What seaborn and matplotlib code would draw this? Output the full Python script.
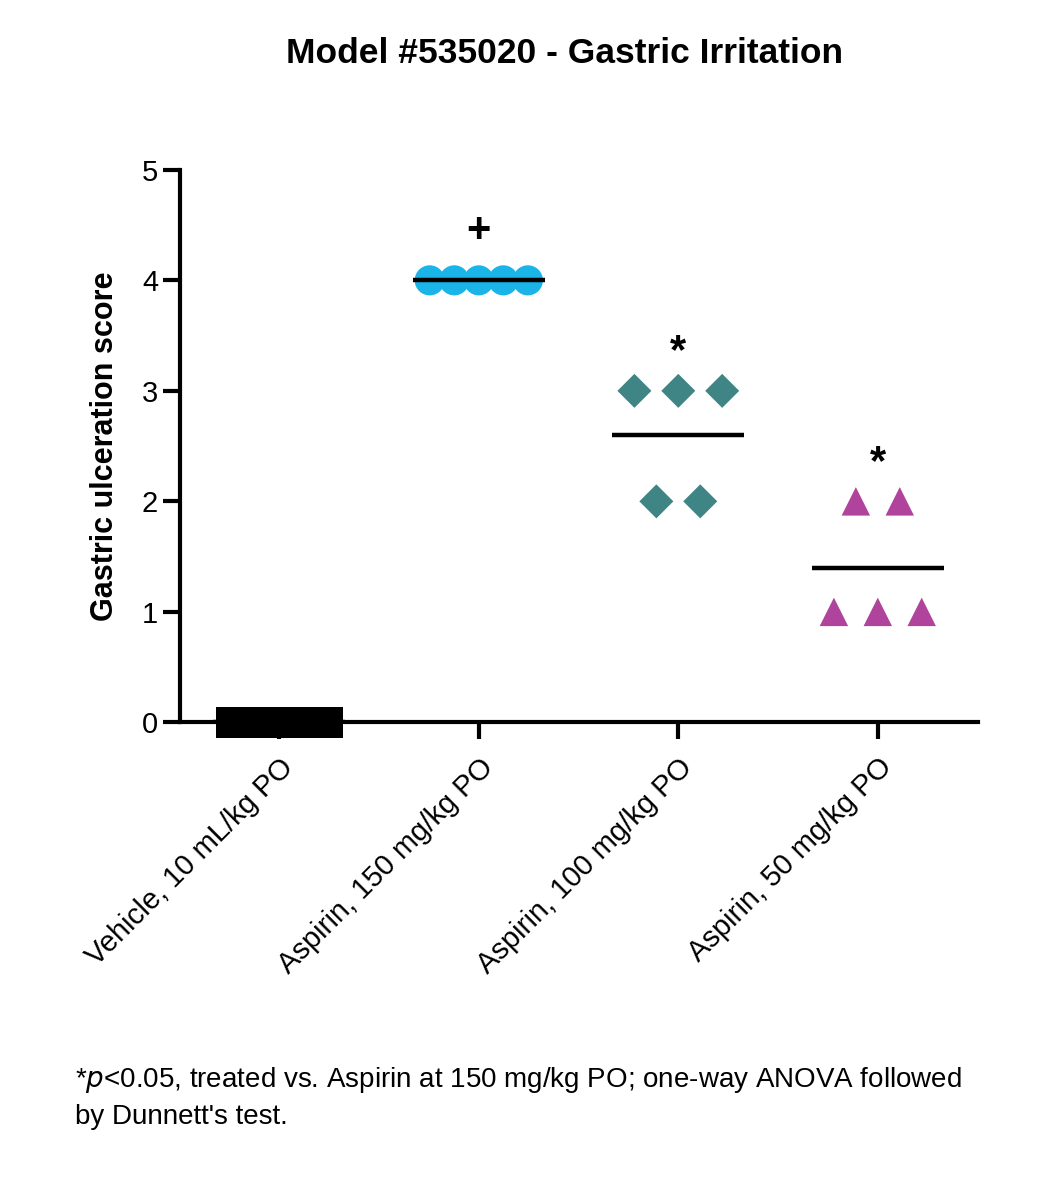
import numpy as np
import pandas as pd
import matplotlib.pyplot as plt
import seaborn as sns

groups = ["Vehicle, 10 mL/kg PO", "Aspirin, 150 mg/kg PO",
          "Aspirin, 100 mg/kg PO", "Aspirin, 50 mg/kg PO"]
vehicle = [0, 0, 0, 0, 0]
asp150 = [4, 4, 4, 4, 4]
asp100 = [3, 3, 3, 2, 2]
asp50 = [2, 2, 1, 1, 1]
markers = ["s", "o", "D", "^"]
colors = ["#000000", "#1bb4e8", "#3f8585", "#b0439b"]
spacing = [0.12, 0.123, 0.22, 0.22]
sizes = [520, 470, 300, 420]
sig_marks = ["", "+", "*", "*"]

sns.set_theme(style="ticks")
plt.rcParams["font.family"] = ["Liberation Sans", "DejaVu Sans"]
plt.rcParams["text.color"] = "black"
plt.rcParams["axes.labelcolor"] = "black"
plt.rcParams["xtick.color"] = "black"
plt.rcParams["ytick.color"] = "black"
plt.rcParams["axes.edgecolor"] = "black"

fig = plt.figure(figsize=(10.5, 11.96), dpi=100)
ax = fig.add_axes([0.171, 0.396, 0.76, 0.462])

for i, vals in enumerate([vehicle, asp150, asp100, asp50]):
    # spread points sharing a value horizontally around the group centre
    xs, ys = [], []
    for v in sorted(set(vals), reverse=True):
        n = vals.count(v)
        offs = (np.arange(n) - (n - 1) / 2) * spacing[i]
        xs += list(i + offs)
        ys += [v] * n
    df = pd.DataFrame({"x": xs, "y": ys})
    sns.scatterplot(data=df, x="x", y="y", marker=markers[i], color=colors[i],
                    s=sizes[i], edgecolor="none", ax=ax, zorder=3, clip_on=False)
    m = np.mean(vals)
    ax.hlines(m, i - 0.33, i + 0.33, color="black", lw=3.2, zorder=4)
    if sig_marks[i]:
        ax.text(i, max(vals) + (0.45 if i == 1 else 0.35), sig_marks[i],
                ha="center", va="center", fontsize=30, fontweight="bold")

ax.set_xlim(-0.5, 3.5)
ax.set_ylim(0, 5)
ax.set_xticks(range(4))
ax.set_xticklabels(groups, rotation=45, ha="right", rotation_mode="anchor", fontsize=21)
ax.set_yticks(range(6))
ax.tick_params(axis="y", labelsize=21, width=3, length=12)
ax.tick_params(axis="x", width=3, length=12, pad=10)
ax.set_xlabel("")
ax.set_ylabel("Gastric ulceration score", fontsize=22, fontweight="bold", labelpad=16)
for s in ["left", "bottom"]:
    ax.spines[s].set_linewidth(3)
sns.despine(ax=ax)

fig.text(0.538, 0.947, "Model #535020 - Gastric Irritation", ha="center",
         fontsize=25.5, fontweight="bold")
fig.text(0.071, 0.06, "*$p$<0.05, treated vs. Aspirin at 150 mg/kg PO; one-way ANOVA followed\nby Dunnett's test.",
         fontsize=20, linespacing=1.45)

fig.savefig("out.png", dpi=100)
